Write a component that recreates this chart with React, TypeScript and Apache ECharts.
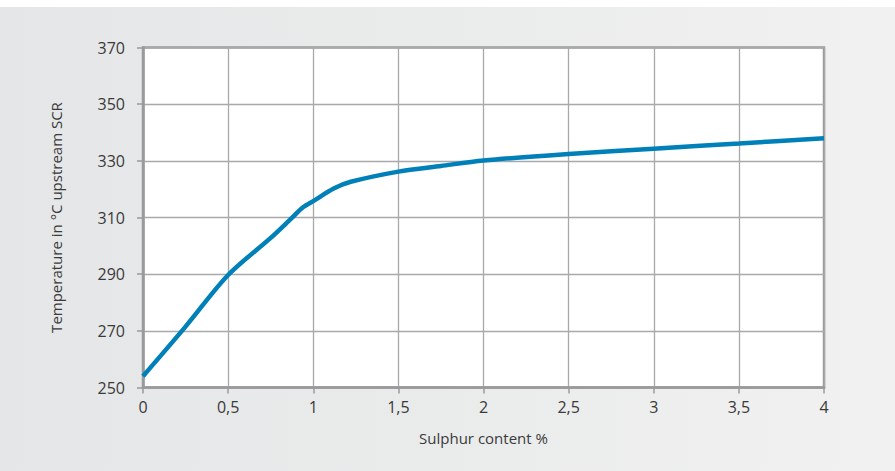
import React, { useEffect, useRef } from "react";
import * as echarts from "echarts";

const sulphur = [0, 0.25, 0.5, 0.75, 0.87, 0.94, 1.0, 1.12, 1.22, 1.5, 1.75, 2, 2.5, 3, 3.5, 4];
const temperature = [254, 271.5, 289.7, 302.8, 309.6, 313.6, 315.8, 320.2, 322.6, 326.2, 328.2, 330.1, 332.4, 334.3, 336.1, 338];
const yAxisTitle = "Temperature in °C upstream SCR";
const xAxisTitle = "Sulphur content %";

export default function App() {
  const ref = useRef<HTMLDivElement>(null);
  useEffect(() => {
    document.body.style.margin = "0";
    const chart = echarts.init(ref.current!, null, { renderer: "svg" });
    const font = "'Open Sans', Lato, sans-serif";
    chart.setOption({
      animation: false,
      backgroundColor: "transparent",
      grid: {
        left: 143,
        right: 71,
        top: 47.5,
        bottom: 83.5,
        show: true,
        backgroundColor: "#ffffff",
        borderColor: "#9a9a9c",
        borderWidth: 2.5,
      },
      xAxis: {
        type: "value",
        min: 0,
        max: 4,
        interval: 0.5,
        name: xAxisTitle,
        nameLocation: "middle",
        nameGap: 43,
        nameTextStyle: { fontFamily: font, fontSize: 15, color: "#3a3a3a" },
        axisLine: { show: true, lineStyle: { color: "#9a9a9c", width: 2.5 } },
        axisTick: { show: true, length: 6, lineStyle: { color: "#9a9a9c", width: 1.5 } },
        splitLine: { show: true, lineStyle: { color: "#a9a9ab", width: 1.3 } },
        axisLabel: {
          margin: 11,
          fontFamily: font,
          fontSize: 16,
          color: "#3a3a3a",
          formatter: (v: number) => String(v).replace(".", ","),
        },
      },
      yAxis: {
        type: "value",
        min: 250,
        max: 370,
        interval: 20,
        name: yAxisTitle,
        nameLocation: "middle",
        nameGap: 80,
        nameTextStyle: { fontFamily: font, fontSize: 15, color: "#3a3a3a" },
        axisLine: { show: true, lineStyle: { color: "#9a9a9c", width: 2.5 } },
        axisTick: { show: true, length: 6, lineStyle: { color: "#9a9a9c", width: 1.5 } },
        splitLine: { show: true, lineStyle: { color: "#a9a9ab", width: 1.3 } },
        axisLabel: { margin: 18, fontFamily: font, fontSize: 16, color: "#3a3a3a" },
      },
      series: [
        {
          type: "line",
          data: sulphur.map((x, i) => [x, temperature[i]]),
          smooth: 0.3,
          showSymbol: false,
          symbol: "none",
          lineStyle: { color: "#0080b9", width: 4.5 },
        },
      ],
    });
    return () => chart.dispose();
  }, []);
  return (
    <div style={{ width: 895, height: 471, background: "#ffffff" }}>
      <div
        style={{
          position: "relative",
          width: 895,
          height: 471,
          background: "linear-gradient(to right, #e5e6e7 0%, #eaebeb 50%, #f1f1f1 100%)",
          clipPath: "inset(7px 0 0 0)",
        }}
      >
        <div ref={ref} style={{ position: "absolute", left: 0, top: 0, width: 895, height: 471 }} />
      </div>
    </div>
  );
}
